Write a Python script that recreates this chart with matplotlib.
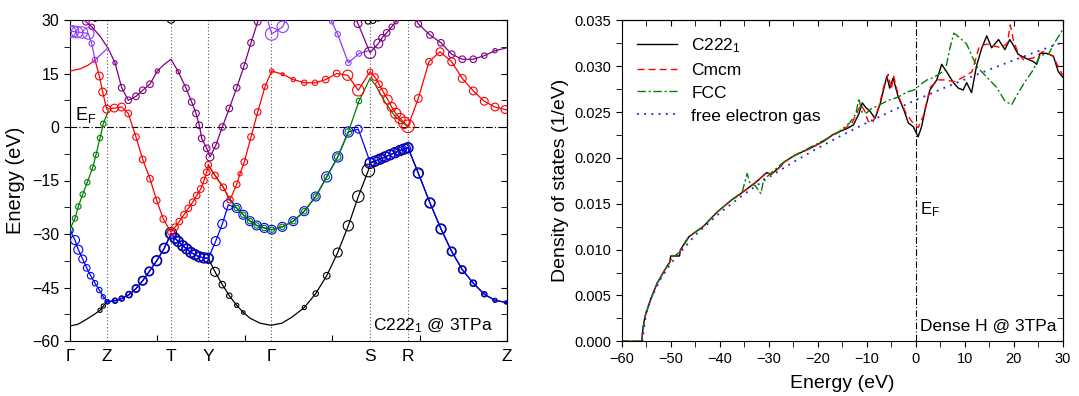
import numpy as np
import matplotlib
matplotlib.use("Agg")
import matplotlib.pyplot as plt
from matplotlib.ticker import MultipleLocator

plt.rcParams['font.family'] = ['Liberation Sans', 'DejaVu Sans']
plt.rcParams['mathtext.default'] = 'regular'

# ---------------- band structure data (k = path distance, E in eV, w = weight) ----------------
sym_k = [0, 37, 101, 138, 201, 300, 338, 437]
sym_labels = ['Γ', 'Z', 'T', 'Y', 'Γ', 'S', 'R', 'Z']

black_k = [0, 8, 16, 24, 30, 33.3, 37,
           45, 51.7, 59, 66, 72.7, 79.3, 86.7, 94.3, 101,
           105, 108.3, 112.7, 116.7, 121, 125, 129.3, 134, 138.3,
           145, 152.3, 159.3, 166.7, 173.3, 180, 190, 201, 212, 222, 234.3, 245.7, 256.7, 267.7, 278.3, 288.3, 298.3,
           300, 305, 310, 315, 320, 325, 330, 334, 338,
           348.3, 360, 371, 381.7, 392.3, 403.3, 414.3, 425, 437]
black_e = [-55.8, -55.3, -54.0, -52.6, -51.4, -50.2, -49.0,
           -48.7, -48.1, -47.0, -45.3, -43.1, -40.5, -37.5, -34.0, -29.8,
           -31.2, -32.1, -33.3, -34.2, -35.2, -35.8, -36.4, -36.7, -36.8,
           -40.6, -44.2, -47.3, -50.0, -52.0, -53.6, -55.0, -55.6, -55.0, -53.3, -50.6, -46.7, -41.7, -35.2, -27.7, -19.5, -12.2,
           -10.2, -9.6, -9.0, -8.4, -7.8, -7.2, -6.6, -6.2, -5.8,
           -12.9, -21.3, -28.6, -34.9, -40.0, -43.8, -46.9, -48.6, -49.2]
black_w = [0, 0, 0, 0, 1, 1, 1,
           1.5, 1.5, 2, 2.5, 3, 3, 3.5, 3.5, 4,
           3.5, 3.5, 3.5, 3.5, 3.5, 3.5, 3.5, 3.5, 3.5,
           3, 2, 1.5, 1, 0.7, 0, 0, 0, 0, 0, 1, 1.5, 2, 3, 3.5, 4, 4.5,
           3.5, 3.5, 3.5, 3.5, 3.5, 3.5, 3.5, 3.5, 3.5,
           3.5, 3.5, 3.5, 3, 2.5, 2, 1.5, 1, 0.7]

btop_k = [25, 101, 298, 303, 308]
btop_e = [30.6, 30.2, 29.6, 29.8, 30.3]
btop_w = [2, 2.5, 1.5, 1.5, 1]

blue_k = [0, 5, 8.3, 12.7, 16.7, 20.7, 25, 29.3, 33.3, 37.7,
          45, 51.7, 59, 66, 72.7, 79.3, 86.7, 94.3, 101,
          105, 108.3, 112.7, 116.7, 121, 125, 129.3, 134, 138.3,
          145.7, 152.3, 158.3,
          166.7, 173.3, 180, 186.7, 194.3, 201.7, 212.3, 223.3, 234.3, 245.7, 256.7, 267.7, 278.3,
          288.3, 298.3,
          300, 304, 308, 312, 316, 320, 324, 328, 332, 336, 338,
          348.3, 360, 371, 381.7, 392.3, 403.3, 414.3, 425, 435.7, 437]
blue_e = [-29.0, -31.7, -34.4, -37.0, -39.5, -41.7, -43.8, -45.7, -47.6, -49.0,
          -48.7, -48.1, -47.0, -45.3, -43.1, -40.5, -37.5, -34.0, -30.0,
          -31.2, -32.1, -33.3, -34.2, -35.2, -35.8, -36.4, -36.7, -36.8,
          -32.0, -27.2, -21.8,
          -22.7, -24.6, -26.4, -27.6, -28.3, -28.8, -28.0, -26.4, -23.6, -19.5, -14.0, -8.4, -1.4,
          -0.6, -8.4,
          -9.9, -9.6, -9.2, -8.8, -8.3, -7.8, -7.3, -6.8, -6.3, -6.0, -5.8,
          -13.0, -21.3, -28.6, -34.9, -40.0, -43.8, -46.9, -48.6, -49.2, -49.3]
blue_w = [2, 3, 3, 2.5, 2, 2, 1.5, 1.5, 1, 1,
          1, 1, 1.5, 2, 2.5, 2.5, 3, 3, 3,
          3, 3, 3, 3, 3, 3, 3, 3, 3,
          3, 3, 3.5,
          3, 3, 3, 3, 3, 3, 3, 3, 3, 3, 3.5, 3.5, 3.5,
          2.5, 0,
          3, 3, 3, 3, 3, 3, 3, 3, 3, 3, 3,
          3, 3, 3, 2.5, 2, 1.5, 1, 0.7, 0.5, 0]

green_k = [0, 5, 8.3, 12.7, 17.3, 22.7, 26, 30, 33.3, 38.3, np.nan,
           138.3, 145, 153.3, 160,
           166.7, 173.3, 180, 186.7, 194.3, 201.7, 212.3, 223.3, 234.3, 245.7, 256.7, 267.7, 278.3,
           289, 300, 305, 315, 325, 338]
green_e = [-28.6, -25.6, -22.3, -18.9, -15.5, -11.4, -7.8, -3.1, 0.9, 4.5, np.nan,
           -10.6, -13.6, -16.9, -20.6,
           -22.7, -24.6, -26.4, -27.6, -28.3, -28.8, -28.0, -26.4, -23.6, -19.5, -14.0, -8.4, -1.4,
           7.3, 13.6, 12.0, 7.0, 3.0, 0.0]
green_w = [1.5, 1.5, 1.5, 1.5, 1.5, 1.5, 1.5, 1.5, 1.5, 0, 0,
           0, 0, 0, 0,
           1.5, 1.5, 1.5, 1.5, 1.5, 1.5, 1.5, 1.5, 1.5, 1.5, 1.5, 2, 2,
           1.5, 0, 0, 0, 0, 0]

red_k = [0, 10, 18, 25,
         29.3, 32.7, 36.7, 44.3, 51.7, 58.3,
         66, 72.7, 80, 86.7, 93.3, 101,
         105, 109.3, 114, 118.3, 122.7, 126.7, 130.7, 134, 136.7, 138.3,
         145, 153.3, 160, 166.7, 170, 174.3, 181, 187.7, 195, 201.7,
         212.7, 223.3, 234.3, 245, 255.7, 266.7, 277.7, 288.3,
         300, 305, 309, 313.3, 317.7, 321.7, 325.7, 330, 334.3, 338,
         348.3, 359, 370, 381.7, 392.3, 403.3, 414.3, 425, 435, 437]
red_e = [15.7, 16.3, 17.3, 18.8,
         14.3, 9.8, 5.0, 5.3, 5.6, 3.8,
         -2.8, -9.1, -14.5, -20.6, -25.8, -29.5,
         -28.1, -26.5, -24.6, -22.8, -21.1, -19.2, -17.4, -15.0, -12.7, -10.6,
         -13.6, -16.9, -20.4, -16.1, -13.1, -9.8, -2.8, 4.2, 11.3, 15.7,
         14.8, 13.3, 12.4, 12.4, 13.3, 15.0, 14.5, 10.3,
         15.5, 14.0, 12.0, 9.8, 7.7, 5.6, 3.8, 2.4, 1.2, 0.2,
         8.0, 18.3, 21.1, 18.3, 13.6, 10.1, 7.2, 5.6, 4.9, 4.8]
red_w = [0, 0, 0, 0,
         2.5, 2.5, 2.5, 2.5, 2.5, 2,
         2, 2, 2, 2, 2, 2,
         2, 2, 2, 2, 2, 2, 2, 2, 2, 2,
         2, 2, 2, 2, 1, 2, 2, 2, 1.5, 1,
         0.5, 1, 1.5, 1.5, 2, 2, 3.5, 4,
         1.5, 2, 2, 2.5, 3, 3, 3.5, 3.5, 4, 4.5,
         2.5, 2, 2.5, 2.5, 2.5, 2.5, 2.5, 2.5, 2.5, 0]

purple_k = [8, 16, 21.7, 30, 38, 45, 51.7, 58.3, 66, 72.7, 80, 87.3, 94, 101,
            108.3, 116, 121.7, 126, 129.3, 131.7, 136.7, 140,
            145.7, 152.3, 159.3, 166.7, 174, 181, 187.7, 191, np.nan,
            283, 288, 300, 308.3, 312, 316.7, 321.7, 326, 330, np.nan,
            345, 348.3, 360, 371, 381.7, 392.3, 403.3, 414.3, 425, 437]
purple_e = [32.0, 29.5, 28.1, 25.5, 22.1, 18.0, 11.0, 7.5, 8.6, 10.3, 12.0, 15.7, 17.5, 19.0,
            15.5, 10.9, 7.0, 3.8, 0.5, -3.2, -6.0, -8.4,
            -5.2, 0.0, 5.2, 11.0, 17.1, 23.6, 29.5, 32.0, np.nan,
            31.5, 29.0, 20.8, 23.4, 25.0, 26.4, 28.1, 29.5, 31.0, np.nan,
            31.0, 28.9, 25.8, 23.6, 20.4, 19.0, 19.0, 20.0, 21.4, 22.2]
purple_w = [2, 2, 1.5, 0, 0, 1, 2, 2, 2, 2, 2, 1, 0, 0,
            1, 2, 2, 2, 2, 2, 2, 2.5,
            2, 2, 2, 2, 2, 2, 2, 0, 0,
            0, 2.5, 4, 3, 2, 2, 1.5, 1, 0, 0,
            0, 2, 2, 2, 2, 2, 2, 1.5, 1, 0]

violet_k = [0, 3, 7, 12, 18.3, 21.7, 25, 38, np.nan,
            196, 201.7, 212.7, 218, np.nan,
            258, 261.7, 267.7, 278.3, 289, 300]
violet_e = [26.8, 26.8, 26.6, 26.5, 26.2, 23.4, 18.8, 22.2, np.nan,
            31.5, 26.1, 28.1, 31.5, np.nan,
            31.5, 29.5, 26.0, 18.0, 20.6, 21.5]
violet_w = [4, 4, 4, 4, 4, 1.5, 1.5, 0, 0,
            0, 4.5, 4, 0, 0,
            0, 1, 1.5, 1.5, 1.5, 0]

# ---------------- density of states data ----------------
e_low = [-60, -55.9, -55.7, -55.3, -54.2, -52.8, -51.3, -50.2, -50.0, -48.2, -48.0, -46.3, -43.4,
         -40.5, -37.6, -34.7, -32.5, -30.4, -29.5, -27.5, -27.0, -24.6, -21.7, -18.8]
dos_low = [0, 0, 0.0012, 0.0026, 0.0044, 0.0063, 0.0077, 0.0086, 0.0093, 0.0093, 0.0100, 0.0114, 0.0125,
           0.0141, 0.0154, 0.0165, 0.0174, 0.0184, 0.0182, 0.0191, 0.0195, 0.0203, 0.0210, 0.0218]

e_c222 = [-17, -15.4, -14, -12.7, -11.6, -10.9, -10.2, -9.2, -8.3, -7.3, -6.3, -5.9, -5.3, -4.6, -3.6,
          -2.4, -1.5, -0.5, 0.5, 1.2, 1.9, 2.9, 4.3, 5.3, 6.3, 7.7, 8.7, 9.7, 10.4, 11.4, 12.4, 13.5,
          14.5, 15.5, 16.9, 18.2, 19.2, 19.9, 20.9, 22.3, 24.0, 24.7, 25.4, 26.7, 28.1, 29.1, 30]
dos_c222 = [0.0225, 0.0229, 0.0232, 0.0236, 0.0248, 0.0260, 0.0255, 0.0250, 0.0243, 0.0258, 0.0280, 0.0289,
            0.0276, 0.0287, 0.0267, 0.0252, 0.0238, 0.0234, 0.0223, 0.0234, 0.0252, 0.0274, 0.0285, 0.0302,
            0.0294, 0.0282, 0.0276, 0.0274, 0.0282, 0.0271, 0.0300, 0.0320, 0.0333, 0.0320, 0.0329, 0.0318,
            0.0329, 0.0323, 0.0313, 0.0309, 0.0305, 0.0302, 0.0314, 0.0314, 0.0311, 0.0294, 0.0288]

e_cmcm = [-17, -15, -13, -11.2, -10.5, -9.7, -8.8, -7.5, -6.4, -5.6, -5.0, -4.5, -3.5, -2.0, -0.7, 0.5,
          1.5, 3.0, 4.5, 6.0, 8.0, 10.0, 11.5, 13.0, 14.5, 16.0, 17.5, 18.7, 19.3, 20.0, 21.0, 22.0, 24.0,
          26.0, 28.0, 30.0]
dos_cmcm = [0.0225, 0.0230, 0.0238, 0.0258, 0.0252, 0.0240, 0.0238, 0.0256, 0.0280, 0.0291, 0.0275, 0.0289,
            0.0267, 0.0249, 0.0239, 0.0233, 0.0245, 0.0277, 0.0285, 0.0285, 0.0283, 0.0289, 0.0294, 0.0322,
            0.0324, 0.0322, 0.0320, 0.0325, 0.0345, 0.0327, 0.0313, 0.0307, 0.0309, 0.0316, 0.0311, 0.0290]

e_fcc = [-60, -55.9, -55.7, -55.3, -54.2, -52.8, -51.3, -50.2, -49.5, -48, -46.3, -43.4, -40.5, -37.6,
         -35.5, -34.4, -33.8, -32.8, -31.6, -31.0, -30.0, -27.5, -24.6, -21.7, -18.8, -16, -13.5, -12.2,
         -11.6, -11.0, -10.0, -9.0, -8.0, -7.0, -5.4, -3.7, -1.7, -0.3, 1.0, 2.3, 3.4, 5.0, 6.1, 7.0, 7.8,
         9.0, 10.4, 12.4, 14.5, 16.5, 18.2, 19.6, 20.6, 22.3, 24.0, 25.4, 27.1, 28.4, 29.8, 30]
dos_fcc = [0, 0, 0.0012, 0.0026, 0.0044, 0.0063, 0.0077, 0.0087, 0.0092, 0.0098, 0.0114, 0.0125, 0.0141,
           0.0154, 0.0161, 0.0183, 0.0172, 0.0170, 0.0161, 0.0177, 0.0181, 0.0193, 0.0203, 0.0211, 0.0219,
           0.0227, 0.0238, 0.0248, 0.0265, 0.0250, 0.0249, 0.0254, 0.0256, 0.0259, 0.0263, 0.0266, 0.0272,
           0.0274, 0.0280, 0.0285, 0.0287, 0.0292, 0.0297, 0.0320, 0.0336, 0.0331, 0.0324, 0.0300, 0.0288,
           0.0277, 0.0262, 0.0258, 0.0268, 0.0283, 0.0296, 0.0312, 0.0313, 0.0326, 0.0338, 0.0340]

e_free = [-55.8, -55, -54, -52, -50, -45, -40, -35, -30, -25, -20, -15, -10, -5, 0, 5, 10, 15, 20, 25, 30]
dos_free = [0, 0.00315, 0.00472, 0.00686, 0.00848, 0.01157, 0.0140, 0.01605, 0.01788, 0.01953, 0.02106,
            0.02248, 0.02382, 0.02509, 0.0263, 0.02745, 0.02855, 0.02962, 0.03065, 0.03164, 0.0326]

# ---------------- figure ----------------
fig = plt.figure(figsize=(10.79, 3.96), dpi=100)
W, H = 1079, 396
ax1 = fig.add_axes([70 / W, 1 - 341 / H, 437 / W, 321 / H])
ax2 = fig.add_axes([621.7 / W, 1 - 341.3 / H, 441 / W, 321 / H])


def draw_band(ax, k, e, w, color, z, line=True):
    k, e, w = np.asarray(k, float), np.asarray(e, float), np.asarray(w, float)
    if line:
        ax.plot(k, e, color=color, lw=0.9, zorder=z)
    m = w > 0
    d = (2.4 * w[m] + 1.8) * 0.72
    ax.scatter(k[m], e[m], s=d ** 2, facecolors='none', edgecolors=color,
               linewidths=0.8, zorder=z + 0.5)


for x in sym_k[1:-1]:
    ax1.axvline(x, color='0.35', ls=(0, (1, 2)), lw=0.8, zorder=1)
ax1.axhline(0, color='black', ls=(0, (6, 2, 1, 2)), lw=0.8, zorder=1)

draw_band(ax1, black_k, black_e, black_w, 'black', 2)
draw_band(ax1, btop_k, btop_e, btop_w, 'black', 2, line=False)
draw_band(ax1, blue_k, blue_e, blue_w, '#0000ff', 3)
draw_band(ax1, green_k, green_e, green_w, '#008000', 4)
draw_band(ax1, red_k, red_e, red_w, '#ff0000', 5)
draw_band(ax1, purple_k, purple_e, purple_w, '#800080', 6)
draw_band(ax1, violet_k, violet_e, violet_w, '#8f3cff', 6)

ax1.set_xlim(0, 437)
ax1.set_ylim(-60, 30)
ax1.set_yticks(np.arange(-60, 31, 15))
ax1.yaxis.set_minor_locator(MultipleLocator(7.5))
ax1.set_xticks(np.linspace(0, 437, 6))
ax1.set_xticklabels([])
ax1.tick_params(axis='x', direction='in', length=4)
ax1.tick_params(axis='y', which='both', direction='out', length=4, labelsize=11.5)
r1 = ax1.secondary_yaxis('right')
r1.set_yticks(np.arange(-60, 31, 15))
r1.yaxis.set_minor_locator(MultipleLocator(7.5))
r1.tick_params(which='both', direction='in', length=4, labelright=False)
s1 = ax1.secondary_xaxis('bottom')
s1.set_xticks(sym_k)
s1.set_xticklabels(sym_labels)
s1.tick_params(length=0, pad=6, labelsize=12.5)
s1.spines['bottom'].set_visible(False)
ax1.set_ylabel('Energy (eV)', fontsize=14.5, labelpad=5)
ax1.text(5, 3.3, 'E$_F$', fontsize=13, va='center', ha='left')
ax1.text(303, -55.8, 'C222$_1$ @ 3TPa', fontsize=12.5, va='center', ha='left')

# DOS panel
ax2.axvline(0, color='black', ls=(0, (6, 2, 1, 2)), lw=0.8)
ax2.plot(e_low + e_c222, dos_low + dos_c222, color='black', lw=1.0, label='C222$_1$')
ax2.plot(e_low + e_cmcm, dos_low + dos_cmcm, color='#ff0000', lw=1.0, ls=(0, (5, 3)), label='Cmcm')
ax2.plot(e_fcc, dos_fcc, color='#008000', lw=1.0, ls=(0, (6, 2, 1.5, 2)), label='FCC')
ax2.plot(e_free, dos_free, color='#2020d0', lw=1.3, ls=(0, (1, 3)), label='free electron gas')

ax2.set_xlim(-60, 30)
ax2.set_ylim(0, 0.035)
ax2.xaxis.set_major_locator(MultipleLocator(10))
ax2.xaxis.set_minor_locator(MultipleLocator(5))
ax2.yaxis.set_major_locator(MultipleLocator(0.005))
ax2.yaxis.set_minor_locator(MultipleLocator(0.0025))
ax2.yaxis.set_major_formatter(plt.FormatStrFormatter('%.3f'))
ax2.tick_params(which='both', direction='out', length=4, labelsize=10.5)
r2 = ax2.secondary_yaxis('right')
r2.yaxis.set_major_locator(MultipleLocator(0.005))
r2.yaxis.set_minor_locator(MultipleLocator(0.0025))
r2.tick_params(which='both', direction='in', length=4, labelright=False)
t2 = ax2.secondary_xaxis('top')
t2.xaxis.set_major_locator(MultipleLocator(10))
t2.xaxis.set_minor_locator(MultipleLocator(5))
t2.tick_params(which='both', direction='in', length=4, labeltop=False)
ax2.set_xlabel('Energy (eV)', fontsize=14, labelpad=7)
ax2.set_ylabel('Density of states (1/eV)', fontsize=14)
ax2.text(0.8, 0.0143, 'E$_F$', fontsize=12, va='center', ha='left')
ax2.text(0.9, 0.00167, 'Dense H @ 3TPa', fontsize=12.5, va='center', ha='left')
ax2.legend(loc='upper left', frameon=False, fontsize=12.5, handlelength=2.3,
           labelspacing=0.45, bbox_to_anchor=(0.0, 1.0), borderaxespad=0.5)

fig.savefig('out.png', dpi=100)
